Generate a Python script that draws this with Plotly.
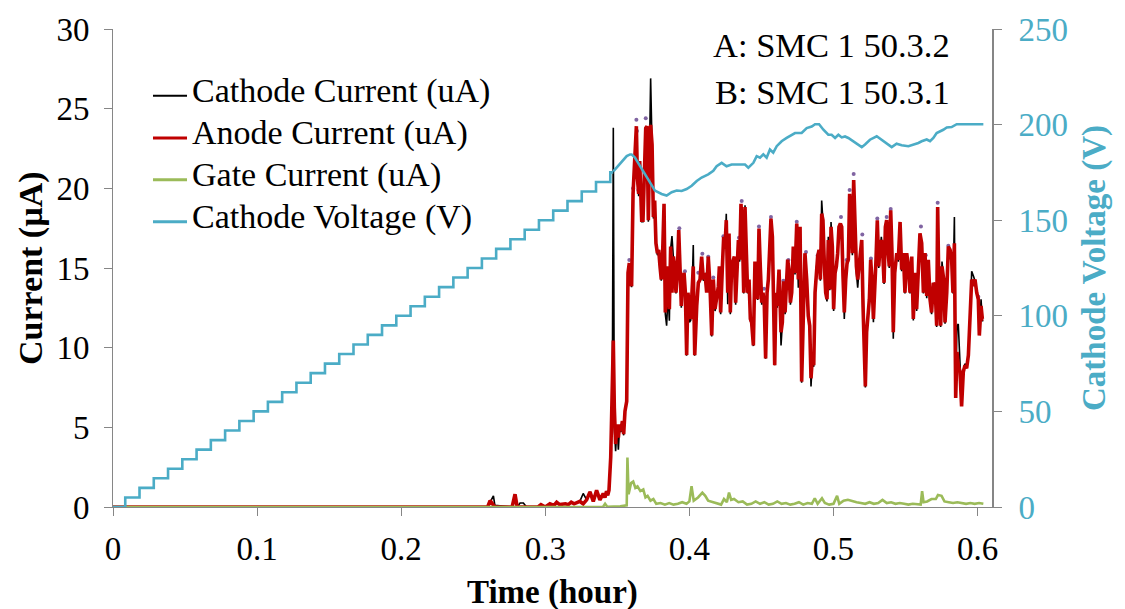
import plotly.graph_objects as go

# ---- Cathode voltage: stepped ramp (step time in hours, voltage after the step)
ramp_time_h = [0.0, 0.0085, 0.0184, 0.0283, 0.0382, 0.0481, 0.0580, 0.0679, 0.0778,
               0.0877, 0.0976, 0.1075, 0.1174, 0.1273, 0.1372, 0.1471, 0.1570, 0.1669,
               0.1768, 0.1867, 0.1966, 0.2065, 0.2164, 0.2263, 0.2362, 0.2461, 0.2560,
               0.2659, 0.2758, 0.2857, 0.2956, 0.3055, 0.3154, 0.3253, 0.3352, 0.3451,
               0.3472]
ramp_volt_v = [0, 5, 10, 15, 20, 25, 30, 35, 40, 45, 50, 55, 60, 65, 70, 75, 80, 85,
               90, 95, 100, 105, 110, 115, 120, 125, 130, 135, 140, 145, 150, 155, 160,
               165, 170, 175, 175]

# ---- Cathode voltage after the ramp (regulated part)
volt_time_h = [0.3472, 0.3518, 0.3565, 0.3588, 0.3599, 0.3622, 0.3669, 0.3715, 0.3761,
               0.3807, 0.3842, 0.3877, 0.3912, 0.3946, 0.3981, 0.4016, 0.4051, 0.4085,
               0.4131, 0.4166, 0.4189, 0.4224, 0.4258, 0.4293, 0.4340, 0.4386, 0.4409,
               0.4444, 0.4467, 0.4490, 0.4513, 0.4536, 0.4559, 0.4582, 0.4606, 0.4640,
               0.4675, 0.4710, 0.4733, 0.4779, 0.4814, 0.4849, 0.4872, 0.4900, 0.4930,
               0.4964, 0.4987, 0.5011, 0.5034, 0.5057, 0.5080, 0.5103, 0.5138, 0.5172,
               0.5196, 0.5219, 0.5253, 0.5300, 0.5334, 0.5369, 0.5404, 0.5438, 0.5473,
               0.5520, 0.5566, 0.5589, 0.5612, 0.5647, 0.5670, 0.5693, 0.5716, 0.5739,
               0.5762, 0.5786, 0.5820, 0.5855, 0.6040]
volt_v = [175.5, 179.2, 183.5, 184.4, 184.4, 182.7, 176.7, 170.6, 165.5,
          163.7, 162.9, 164.6, 165.5, 165.3, 166.3, 168.0, 170.5, 172.3,
          174.0, 175.8, 178.2, 180.0, 178.2, 179.1, 179.1, 179.1, 177.5,
          180.0, 183.5, 182.7, 184.4, 182.7, 187.0, 185.3, 188.7, 191.3,
          193.0, 194.7, 195.6, 195.6, 198.2, 199.0, 200.2, 200.2, 197.3,
          194.7, 194.7, 193.0, 194.7, 193.3, 193.8, 193.0, 191.3, 189.6,
          188.2, 189.6, 192.1, 193.9, 192.1, 190.4, 188.2, 190.0, 189.2,
          188.7, 189.6, 190.4, 191.3, 192.2, 191.3, 193.0, 195.6, 196.4,
          197.3, 198.5, 198.7, 200.2, 200.2]

# ---- Cathode and anode currents (uA)
time_h = [0.0, 0.2600, 0.2617, 0.2640, 0.2650, 0.2770, 0.2790, 0.2805, 0.2825, 0.2848,
          0.2870, 0.2950, 0.2970, 0.3000, 0.3032, 0.3060, 0.3079, 0.3100, 0.3140, 0.3160,
          0.3180, 0.3200, 0.3240, 0.3263, 0.3287, 0.3310, 0.3333, 0.3356, 0.3379, 0.3402,
          0.3414, 0.3425, 0.3433, 0.3442, 0.3454, 0.3465, 0.3472, 0.3479, 0.3488, 0.3498,
          0.3507, 0.3516, 0.3525, 0.3535, 0.3544, 0.3553, 0.3565, 0.3574, 0.3583, 0.3593,
          0.3599, 0.3609, 0.3618, 0.3625, 0.3632, 0.3639, 0.3648, 0.3655, 0.3662, 0.3669,
          0.3678, 0.3687, 0.3697, 0.3706, 0.3715, 0.3722, 0.3731, 0.3741, 0.3750, 0.3759,
          0.3768, 0.3778, 0.3787, 0.3796, 0.3805, 0.3815, 0.3824, 0.3833, 0.3842, 0.3852,
          0.3861, 0.3870, 0.3879, 0.3889, 0.3898, 0.3907, 0.3916, 0.3926, 0.3935, 0.3944,
          0.3953, 0.3963, 0.3972, 0.3981, 0.3990, 0.4000, 0.4009, 0.4018, 0.4027, 0.4037,
          0.4046, 0.4051, 0.4062, 0.4074, 0.4085, 0.4097, 0.4108, 0.4120, 0.4131, 0.4143,
          0.4155, 0.4166, 0.4178, 0.4189, 0.4201, 0.4208, 0.4217, 0.4229, 0.4238, 0.4247,
          0.4256, 0.4266, 0.4275, 0.4284, 0.4293, 0.4305, 0.4312, 0.4321, 0.4330, 0.4340,
          0.4349, 0.4358, 0.4367, 0.4377, 0.4386, 0.4395, 0.4404, 0.4414, 0.4423, 0.4432,
          0.4444, 0.4455, 0.4465, 0.4474, 0.4483, 0.4492, 0.4502, 0.4511, 0.4520, 0.4529,
          0.4539, 0.4548, 0.4557, 0.4566, 0.4576, 0.4585, 0.4592, 0.4601, 0.4610, 0.4622,
          0.4631, 0.4636, 0.4645, 0.4654, 0.4664, 0.4673, 0.4682, 0.4691, 0.4701, 0.4710,
          0.4721, 0.4733, 0.4745, 0.4756, 0.4768, 0.4779, 0.4791, 0.4802, 0.4814, 0.4825,
          0.4835, 0.4844, 0.4853, 0.4863, 0.4872, 0.4881, 0.4890, 0.4900, 0.4909, 0.4918,
          0.4927, 0.4937, 0.4946, 0.4955, 0.4964, 0.4974, 0.4983, 0.4992, 0.5001, 0.5011,
          0.5020, 0.5029, 0.5038, 0.5048, 0.5057, 0.5066, 0.5075, 0.5085, 0.5094, 0.5103,
          0.5112, 0.5122, 0.5131, 0.5140, 0.5149, 0.5159, 0.5168, 0.5177, 0.5186, 0.5196,
          0.5205, 0.5214, 0.5221, 0.5230, 0.5240, 0.5249, 0.5258, 0.5267, 0.5277, 0.5286,
          0.5295, 0.5304, 0.5314, 0.5323, 0.5332, 0.5341, 0.5351, 0.5360, 0.5369, 0.5378,
          0.5387, 0.5397, 0.5406, 0.5415, 0.5425, 0.5439, 0.5450, 0.5462, 0.5473, 0.5485,
          0.5496, 0.5508, 0.5520, 0.5531, 0.5543, 0.5554, 0.5566, 0.5577, 0.5589, 0.5600,
          0.5612, 0.5624, 0.5635, 0.5647, 0.5658, 0.5670, 0.5681, 0.5693, 0.5705, 0.5716,
          0.5723, 0.5732, 0.5744, 0.5753, 0.5765, 0.5774, 0.5786, 0.5797, 0.5809, 0.5820,
          0.5829, 0.5839, 0.5848, 0.5857, 0.5866, 0.5878, 0.5889, 0.5901, 0.5913, 0.5924,
          0.5936, 0.5947, 0.5959, 0.5971, 0.5982, 0.5994, 0.6005, 0.6012, 0.6024, 0.6033,
          0.6040]

anode_ua = [0.0, 0.0, 0.4, 0.1, 0.0, 0.0, 0.8, 0.0, 0.0, 0.0,
            0.0, 0.0, 0.15, 0.0, 0.2, 0.1, 0.3, 0.15, 0.2, 0.15,
            0.3, 0.2, 0.35, 0.2, 0.45, 0.95, 0.35, 1.05, 0.45, 0.85,
            0.6, 1.0, 0.74, 1.05, 3.12, 7.25, 10.45, 6.22, 3.95, 5.19,
            4.36, 5.19, 4.77, 5.39, 4.57, 6.01, 6.63, 14.69, 15.31, 14.28,
            13.86, 19.65, 21.71, 22.95, 23.9, 20.68, 19.65, 21.71, 19.86, 18.0,
            18.0, 21.71, 23.78, 23.9, 18.0, 21.71, 23.99, 22.75, 18.2, 19.24,
            16.55, 15.93, 16.14, 15.1, 14.28, 16.14, 19.03, 12.21, 15.1, 13.45,
            12.42, 16.34, 13.45, 15.72, 15.1, 13.45, 14.69, 17.38, 15.1, 12.62,
            14.28, 14.69, 13.45, 9.53, 13.45, 12.62, 11.8, 13.45, 15.1, 9.53,
            12.42, 12.62, 14.07, 14.28, 15.72, 14.28, 14.69, 13.45, 15.72, 13.86,
            10.76, 14.28, 12.42, 13.04, 13.86, 15.1, 12.21, 15.1, 16.96, 16.34,
            18.0, 13.45, 17.17, 12.21, 15.1, 15.52, 15.72, 12.83, 15.52, 16.76,
            15.52, 19.03, 17.58, 13.45, 18.82, 15.93, 13.45, 14.28, 11.8, 11.59,
            10.14, 15.41, 14.69, 13.04, 17.48, 15.1, 12.83, 13.45, 12.62, 9.32,
            13.45, 14.28, 15.93, 18.1, 16.96, 10.97, 8.9, 13.45, 12.62, 14.9,
            11.8, 10.97, 11.59, 14.17, 12.21, 13.66, 15.52, 14.9, 12.83, 13.45,
            16.34, 14.69, 17.79, 14.28, 17.58, 7.87, 12.62, 15.93, 14.28, 12.0,
            11.38, 8.08, 9.32, 8.9, 13.45, 15.1, 15.72, 16.14, 14.28, 18.41,
            18.0, 15.1, 13.45, 13.04, 16.76, 13.66, 17.58, 16.34, 12.42, 14.69,
            15.1, 15.93, 17.58, 17.79, 17.58, 14.48, 12.21, 14.28, 15.31, 15.52,
            19.65, 18.0, 15.93, 20.52, 17.17, 15.1, 14.28, 15.1, 16.14, 16.76,
            12.62, 10.55, 7.56, 10.97, 12.21, 13.04, 15.52, 14.28, 11.8, 13.45,
            15.52, 18.0, 15.1, 16.34, 16.76, 16.14, 14.07, 17.58, 18.0, 16.14,
            15.1, 18.62, 15.93, 10.97, 14.69, 15.93, 15.52, 17.89, 14.9, 15.93,
            13.45, 15.93, 15.1, 13.45, 15.72, 11.8, 14.69, 12.42, 14.48, 17.17,
            16.55, 13.45, 15.93, 13.24, 15.52, 13.04, 12.21, 14.07, 13.86, 11.38,
            18.82, 13.45, 11.38, 15.1, 14.28, 11.59, 13.45, 16.34, 16.14, 15.52,
            13.45, 16.55, 6.84, 9.73, 8.9, 8.49, 6.32, 8.49, 8.9, 8.7,
            9.52, 11.38, 14.28, 13.86, 14.28, 13.45, 13.04, 10.76, 12.62, 11.8,
            11.8]

cathode_ua = [0.0, 0.0, 0.3, 0.7, 0.1, 0.0, 0.6, 0.0, 0.25, 0.25,
              0.0, 0.0, 0.15, 0.0, 0.2, 0.1, 0.3, 0.15, 0.2, 0.15,
              0.3, 0.2, 0.35, 0.85, 0.45, 0.95, 0.35, 1.05, 0.45, 0.85,
              0.6, 1.0, 0.74, 1.05, 3.1, 7.0, 23.8, 5.0, 3.5, 5.1,
              3.6, 5.1, 4.7, 5.3, 4.5, 6.0, 6.6, 14.5, 15.2, 14.2,
              13.8, 19.5, 21.6, 22.8, 23.8, 20.5, 19.5, 21.6, 19.8, 17.9,
              17.9, 21.6, 23.7, 23.8, 17.9, 21.6, 26.9, 22.6, 18.1, 19.1,
              16.4, 15.8, 16.0, 15.0, 14.2, 16.0, 18.9, 12.1, 11.38, 13.4,
              11.69, 16.2, 17.0, 15.6, 15.0, 13.4, 14.6, 17.3, 15.0, 12.5,
              14.2, 14.6, 13.4, 9.5, 13.4, 11.59, 11.7, 13.4, 16.45, 9.5,
              12.3, 12.5, 14.0, 14.2, 15.6, 14.2, 14.6, 14.69, 15.6, 13.8,
              10.7, 14.2, 12.3, 13.0, 13.8, 15.0, 12.1, 15.0, 16.9, 16.2,
              18.41, 12.73, 17.1, 12.1, 15.0, 15.4, 15.6, 12.7, 15.4, 16.7,
              15.4, 18.9, 17.5, 13.4, 18.93, 15.8, 13.4, 14.2, 11.7, 11.38,
              10.1, 15.3, 14.6, 13.0, 17.4, 15.0, 12.7, 13.4, 12.5, 9.3,
              13.4, 14.2, 15.8, 18.0, 16.9, 10.9, 8.9, 13.4, 12.5, 14.8,
              11.7, 10.14, 11.5, 14.1, 12.1, 13.6, 15.4, 14.8, 12.7, 13.4,
              16.2, 14.6, 17.7, 13.76, 17.5, 7.8, 12.5, 15.8, 14.2, 11.9,
              11.3, 7.56, 9.2, 8.8, 13.4, 15.0, 15.6, 16.0, 14.2, 19.24,
              17.9, 15.0, 13.4, 12.9, 16.96, 13.6, 17.89, 16.2, 12.3, 14.6,
              15.0, 15.8, 17.5, 17.7, 17.5, 14.4, 11.8, 14.2, 15.2, 15.4,
              19.5, 17.9, 15.8, 20.4, 17.1, 14.69, 13.76, 15.0, 16.0, 16.7,
              12.5, 10.5, 7.5, 10.9, 12.1, 12.9, 15.4, 14.2, 11.6, 13.4,
              15.4, 17.9, 15.0, 16.2, 16.96, 16.0, 14.0, 17.5, 17.9, 16.0,
              15.0, 18.5, 15.8, 10.56, 14.6, 15.8, 15.4, 17.8, 14.8, 15.8,
              13.4, 15.8, 15.0, 13.4, 15.6, 11.7, 14.6, 12.3, 14.4, 17.1,
              16.4, 13.4, 15.8, 13.1, 15.4, 12.9, 12.1, 14.0, 13.8, 11.3,
              18.7, 13.4, 11.3, 15.41, 14.2, 11.5, 13.4, 16.2, 16.0, 15.4,
              13.4, 18.2, 7.2, 11.38, 11.49, 8.9, 6.8, 8.6, 9.0, 8.8,
              9.6, 11.5, 14.79, 14.5, 14.2, 13.4, 12.9, 10.9, 13.04, 11.7,
              11.7]

# ---- Second anode reading, visible only at the peak tips (uA)
peak_time_h = [0.3583, 0.3609, 0.3632, 0.3636, 0.3646, 0.3697, 0.3706, 0.3930, 0.3969,
               0.4062, 0.4090, 0.4131, 0.4166, 0.4236, 0.4344, 0.4363, 0.4483, 0.4518,
               0.4566, 0.4652, 0.4687, 0.4745, 0.4809, 0.4890, 0.5052, 0.5091, 0.5112,
               0.5140, 0.5177, 0.5200, 0.5260, 0.5304, 0.5369, 0.5397, 0.5607, 0.5640,
               0.5723, 0.5797, 0.6005]
peak_ua = [15.5, 20.0, 24.3, 23.6, 19.9, 24.4, 23.7, 17.5, 14.8,
           14.7, 15.9, 15.7, 14.4, 17.0, 16.9, 19.2, 17.6, 13.7,
           18.2, 14.2, 15.5, 17.9, 16.0, 15.8, 18.2, 15.5, 19.9,
           20.9, 15.2, 17.1, 15.6, 18.1, 18.2, 18.7, 17.6, 15.8,
           19.1, 16.4, 13.2]

# ---- Gate current (uA)
gate_time_h = [0.0, 0.3400, 0.3415, 0.3430, 0.3520, 0.3550, 0.3565, 0.3570, 0.3578, 0.3595,
               0.3610, 0.3625, 0.3640, 0.3660, 0.3680, 0.3695, 0.3710, 0.3730, 0.3750, 0.3770,
               0.3800, 0.3830, 0.3860, 0.3890, 0.3920, 0.3950, 0.3980, 0.4000, 0.4015, 0.4030,
               0.4060, 0.4090, 0.4110, 0.4130, 0.4160, 0.4190, 0.4220, 0.4240, 0.4260, 0.4275,
               0.4290, 0.4310, 0.4340, 0.4370, 0.4400, 0.4430, 0.4460, 0.4490, 0.4520, 0.4550,
               0.4580, 0.4610, 0.4640, 0.4670, 0.4700, 0.4730, 0.4760, 0.4790, 0.4820, 0.4850,
               0.4870, 0.4890, 0.4920, 0.4940, 0.4970, 0.5000, 0.5025, 0.5040, 0.5070, 0.5100,
               0.5130, 0.5160, 0.5190, 0.5220, 0.5250, 0.5280, 0.5310, 0.5340, 0.5370, 0.5400,
               0.5430, 0.5460, 0.5490, 0.5520, 0.5550, 0.5580, 0.5605, 0.5615, 0.5625, 0.5650,
               0.5680, 0.5710, 0.5725, 0.5750, 0.5770, 0.5800, 0.5830, 0.5860, 0.5890, 0.5920,
               0.5950, 0.5980, 0.6010, 0.6040]
gate_ua = [0.0, 0.0, 0.2, 0.02, 0.05, 0.1, 0.1, 3.1, 0.8, 1.5,
           1.6, 1.2, 1.3, 1.0, 1.1, 0.6, 0.7, 0.4, 0.5, 0.2,
           0.25, 0.15, 0.25, 0.15, 0.2, 0.3, 0.2, 0.35, 1.3, 0.4,
           0.6, 0.9, 0.7, 0.4, 0.3, 0.2, 0.15, 0.5, 0.3, 0.9,
           0.45, 0.5, 0.3, 0.35, 0.15, 0.2, 0.35, 0.2, 0.3, 0.15,
           0.2, 0.35, 0.2, 0.25, 0.15, 0.2, 0.3, 0.15, 0.25, 0.2,
           0.55, 0.2, 0.55, 0.25, 0.15, 0.2, 0.7, 0.2, 0.4, 0.45,
           0.35, 0.3, 0.25, 0.2, 0.3, 0.2, 0.25, 0.45, 0.25, 0.3,
           0.2, 0.25, 0.2, 0.15, 0.2, 0.15, 0.15, 1.0, 0.3, 0.35,
           0.5, 0.5, 0.75, 0.7, 0.35, 0.3, 0.25, 0.3, 0.25, 0.2,
           0.25, 0.2, 0.25, 0.2]

x_ticks = [0, 0.1, 0.2, 0.3, 0.4, 0.5, 0.6]
x_tick_text = ["0", "0.1", "0.2", "0.3", "0.4", "0.5", "0.6"]

legend_labels = ["Cathode Current (uA)", "Anode Current (uA)",
                 "Gate Current (uA)", "Cathode Voltage (V)"]

SERIF = "Liberation Serif, Times New Roman, serif"
BLACK = "#000000"
RED = "#C00000"
GREEN = "#9BBB59"
BLUE = "#4BACC6"
PURPLE = "#8064A2"
AXIS_GREY = "#868686"
legend_colors = [BLACK, RED, GREEN, BLUE]
legend_widths = [2, 3, 3, 3]

fig = go.Figure()

fig.add_trace(go.Scatter(x=time_h, y=cathode_ua, mode="lines", name=legend_labels[0],
                         line=dict(color=BLACK, width=1.6), showlegend=False))
fig.add_trace(go.Scatter(x=peak_time_h, y=peak_ua, mode="markers", name="peaks",
                         marker=dict(color=PURPLE, size=4, line=dict(width=0)),
                         showlegend=False))
fig.add_trace(go.Scatter(x=time_h, y=anode_ua, mode="lines", name=legend_labels[1],
                         line=dict(color=RED, width=3.6), showlegend=False))
fig.add_trace(go.Scatter(x=gate_time_h, y=gate_ua, mode="lines", name=legend_labels[2],
                         line=dict(color=GREEN, width=2.6), showlegend=False))
fig.add_trace(go.Scatter(x=ramp_time_h, y=ramp_volt_v, mode="lines", name=legend_labels[3],
                         line=dict(color=BLUE, width=2.6, shape="hv"), yaxis="y2",
                         showlegend=False))
fig.add_trace(go.Scatter(x=volt_time_h, y=volt_v, mode="lines", showlegend=False,
                         line=dict(color=BLUE, width=2.6), yaxis="y2"))

fig.update_layout(
    width=1125, height=609,
    margin=dict(l=113, r=133, t=23, b=102),
    paper_bgcolor="white", plot_bgcolor="white",
    font=dict(family=SERIF, color=BLACK, size=33),
    showlegend=False,
    xaxis=dict(range=[0, 0.61], tickvals=x_ticks, ticktext=x_tick_text,
               showgrid=False, zeroline=False, showline=True, linecolor=AXIS_GREY, linewidth=1,
               ticks="outside", ticklen=8, tickcolor=AXIS_GREY, tickwidth=1,
               tickfont=dict(family=SERIF, size=33, color=BLACK), ticklabelstandoff=4),
    yaxis=dict(range=[0, 30], dtick=5, showgrid=False, zeroline=False,
               showline=True, linecolor=AXIS_GREY, linewidth=1,
               ticks="outside", ticklen=8, tickcolor=AXIS_GREY, tickwidth=1,
               tickfont=dict(family=SERIF, size=33, color=BLACK), ticklabelstandoff=8),
    yaxis2=dict(range=[0, 250], dtick=50, overlaying="y", side="right",
                showgrid=False, zeroline=False, showline=True, linecolor=AXIS_GREY, linewidth=2,
                ticks="outside", ticklen=8, tickcolor=AXIS_GREY, tickwidth=1,
                tickfont=dict(family=SERIF, size=33, color=BLUE), ticklabelstandoff=10),
)

# Legend: short line sample plus label for each series, stacked top-left
legend_rows_y = [0.8601, 0.7721, 0.6845, 0.5965]
for label, color, width, row_y in zip(legend_labels, legend_colors, legend_widths, legend_rows_y):
    fig.add_shape(type="line", xref="paper", yref="paper", x0=0.0455, x1=0.0842,
                  y0=row_y, y1=row_y, line=dict(color=color, width=width))
    fig.add_annotation(text=label, xref="paper", yref="paper", x=0.0876, y=row_y + 0.010,
                       xanchor="left", yanchor="middle", showarrow=False,
                       font=dict(family=SERIF, size=34, color=BLACK))

# Axis titles and sample labels
fig.add_annotation(text="<b>Time (hour)</b>", xref="paper", yref="paper", x=0.5, y=-0.178,
                   xanchor="center", yanchor="middle", showarrow=False,
                   font=dict(family=SERIF, size=33, color=BLACK))
fig.add_annotation(text="<b>Current (µA)</b>", xref="paper", yref="paper", x=-0.0933, y=0.5,
                   xanchor="center", yanchor="middle", textangle=-90, showarrow=False,
                   font=dict(family=SERIF, size=34, color=BLACK))
fig.add_annotation(text="<b>Cathode Voltage (V)</b>", xref="paper", yref="paper", x=1.116, y=0.5,
                   xanchor="center", yanchor="middle", textangle=-90, showarrow=False,
                   font=dict(family=SERIF, size=33, color=BLUE))
fig.add_annotation(text="A: SMC 1 50.3.2", xref="paper", yref="paper", x=0.8174, y=0.967,
                   xanchor="center", yanchor="middle", showarrow=False,
                   font=dict(family=SERIF, size=34.5, color=BLACK))
fig.add_annotation(text="B: SMC 1 50.3.1", xref="paper", yref="paper", x=0.818, y=0.8688,
                   xanchor="center", yanchor="middle", showarrow=False,
                   font=dict(family=SERIF, size=34.5, color=BLACK))

fig.write_html("out.html")
